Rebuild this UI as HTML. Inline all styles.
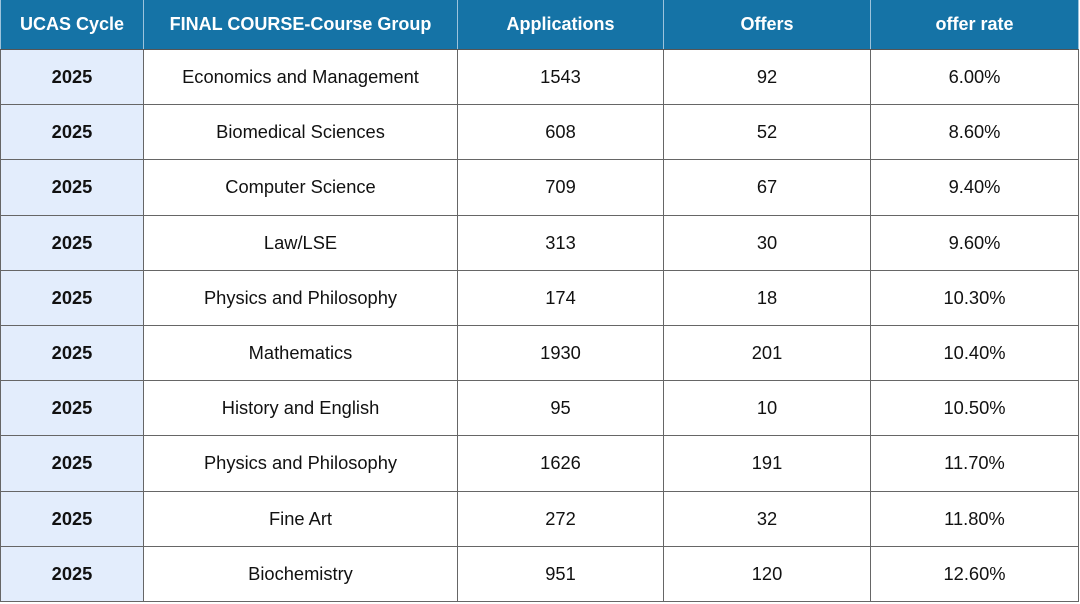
<!DOCTYPE html>
<html><head><style>
html,body{margin:0;padding:0;background:#fff;width:1080px;height:604px;overflow:hidden}
table{position:absolute;left:0;top:0;border-collapse:collapse;width:1078px;table-layout:fixed;font-family:"Liberation Sans",Arial,sans-serif;font-size:18.3px;color:#111}
th{background:#1573a6;color:#fff;font-weight:bold;height:49px;border-left:1px solid #9cc3dc;border-right:1px solid #9cc3dc;border-bottom:1px solid #555;text-align:center;padding:0;font-size:18px}
td{height:54.2px;border:1px solid #666;text-align:center;padding:0}
td.y{background:#e3edfc;font-weight:bold}
</style></head><body>
<table>
<colgroup><col style="width:143px"><col style="width:314px"><col style="width:206px"><col style="width:207px"><col style="width:208px"></colgroup>
<tr><th>UCAS Cycle</th><th>FINAL COURSE-Course Group</th><th>Applications</th><th>Offers</th><th>offer rate</th></tr>
<tr><td class="y">2025</td><td>Economics and Management</td><td>1543</td><td>92</td><td>6.00%</td></tr>
<tr><td class="y">2025</td><td>Biomedical Sciences</td><td>608</td><td>52</td><td>8.60%</td></tr>
<tr><td class="y">2025</td><td>Computer Science</td><td>709</td><td>67</td><td>9.40%</td></tr>
<tr><td class="y">2025</td><td>Law/LSE</td><td>313</td><td>30</td><td>9.60%</td></tr>
<tr><td class="y">2025</td><td>Physics and Philosophy</td><td>174</td><td>18</td><td>10.30%</td></tr>
<tr><td class="y">2025</td><td>Mathematics</td><td>1930</td><td>201</td><td>10.40%</td></tr>
<tr><td class="y">2025</td><td>History and English</td><td>95</td><td>10</td><td>10.50%</td></tr>
<tr><td class="y">2025</td><td>Physics and Philosophy</td><td>1626</td><td>191</td><td>11.70%</td></tr>
<tr><td class="y">2025</td><td>Fine Art</td><td>272</td><td>32</td><td>11.80%</td></tr>
<tr><td class="y">2025</td><td>Biochemistry</td><td>951</td><td>120</td><td>12.60%</td></tr>
</table>
</body></html>
